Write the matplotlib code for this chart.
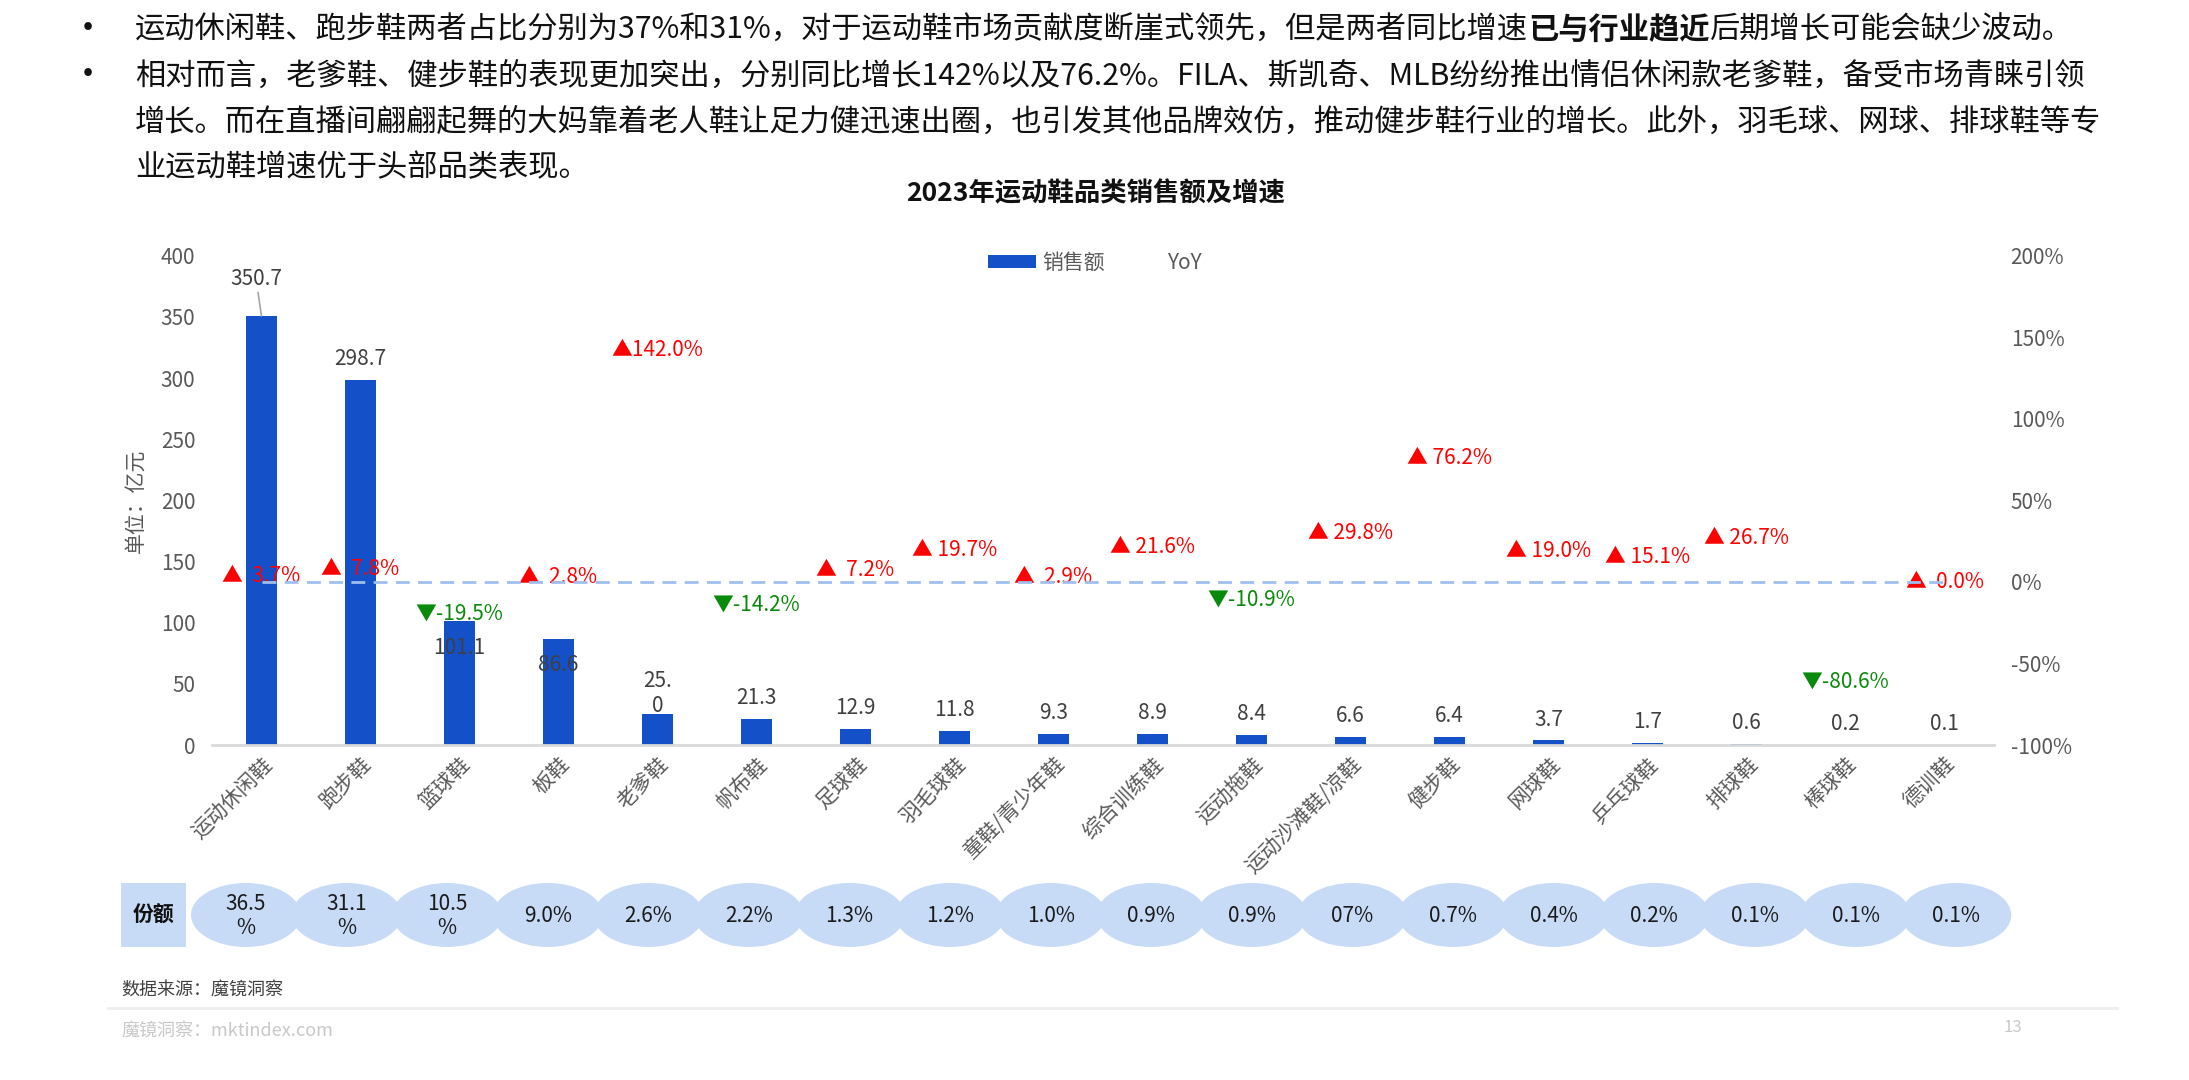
import numpy as np
import matplotlib
matplotlib.use("Agg")
import matplotlib.pyplot as plt
from matplotlib.patches import Patch, Ellipse, Rectangle
from matplotlib.lines import Line2D
from matplotlib.ticker import FuncFormatter, MultipleLocator

plt.rcParams['font.family'] = ['Noto Sans CJK SC', 'DejaVu Sans']

# ---- data ----
categories = ["运动休闲鞋", "跑步鞋", "篮球鞋", "板鞋", "老爹鞋", "帆布鞋", "足球鞋", "羽毛球鞋",
              "童鞋/青少年鞋", "综合训练鞋", "运动拖鞋", "运动沙滩鞋/凉鞋", "健步鞋", "网球鞋",
              "乒乓球鞋", "排球鞋", "棒球鞋", "德训鞋"]
sales = [350.7, 298.7, 101.1, 86.6, 25.0, 21.3, 12.9, 11.8, 9.3, 8.9, 8.4, 6.6, 6.4, 3.7, 1.7, 0.6, 0.2, 0.1]
sales_labels = ["350.7", "298.7", "101.1", "86.6", "25.\n0", "21.3", "12.9", "11.8", "9.3", "8.9",
                "8.4", "6.6", "6.4", "3.7", "1.7", "0.6", "0.2", "0.1"]
yoy = [3.7, 7.8, -19.5, 2.8, 142.0, -14.2, 7.2, 19.7, 2.9, 21.6, -10.9, 29.8, 76.2, 19.0, 15.1, 26.7, -80.6, 0.0]
share_labels = ["36.5\n%", "31.1\n%", "10.5\n%", "9.0%", "2.6%", "2.2%", "1.3%", "1.2%", "1.0%",
                "0.9%", "0.9%", "07%", "0.7%", "0.4%", "0.2%", "0.1%", "0.1%", "0.1%"]

title = "2023年运动鞋品类销售额及增速"
para1 = [("运动休闲鞋、跑步鞋两者占比分别为37%和31%，对于运动鞋市场贡献度断崖式领先，但是两者同比增速", "normal"),
         ("已与行业趋近", "bold"),
         ("后期增长可能会缺少波动。", "normal")]
para2 = ["相对而言，老爹鞋、健步鞋的表现更加突出，分别同比增长142%以及76.2%。FILA、斯凯奇、MLB纷纷推出情侣休闲款老爹鞋，备受市场青睐引领",
         "增长。而在直播间翩翩起舞的大妈靠着老人鞋让足力健迅速出圈，也引发其他品牌效仿，推动健步鞋行业的增长。此外，羽毛球、网球、排球鞋等专",
         "业运动鞋增速优于头部品类表现。"]

W, H = 2189, 1080
BLUE = "#1450c8"
LIGHT = "#c7dbf6"
GRAY = "#595959"

fig = plt.figure(figsize=(W / 100, H / 100), dpi=100)

# page overlay in pixel coordinates
page = fig.add_axes([0, 0, 1, 1])
page.set_xlim(0, W)
page.set_ylim(H, 0)
page.axis("off")

# ---- main chart ----
ax = fig.add_axes([212 / W, (H - 745) / H, 1782 / W, (745 - 255.7) / H])
x = np.arange(len(categories))
ax.bar(x, sales, width=0.31, color=BLUE, zorder=2)
ax.set_xlim(-0.5, len(categories) - 0.5)
ax.set_ylim(0, 400)
ax.yaxis.set_major_locator(MultipleLocator(50))
for s in ["top", "right", "left"]:
    ax.spines[s].set_visible(False)
ax.spines["bottom"].set_color("#d9d9d9")
ax.spines["bottom"].set_linewidth(2)
ax.tick_params(axis="y", length=0, labelsize=15, labelcolor=GRAY, pad=12)
ax.tick_params(axis="x", length=0, pad=6)
ax.set_xticks(x)
ax.set_xticklabels(categories, rotation=45, ha="right", va="top", rotation_mode="anchor",
                   fontsize=15, color=GRAY)
ax.set_ylabel("单位：亿元", fontsize=15, color=GRAY, labelpad=10)
ax.patch.set_alpha(0)

# sales labels
for i, (v, lab) in enumerate(zip(sales, sales_labels)):
    if i == 0:
        ax.annotate(lab, xy=(i, v), xytext=(-4, 19), textcoords="offset points",
                    ha="center", va="bottom", fontsize=15, color="#404040",
                    arrowprops=dict(arrowstyle="-", color="#a6a6a6", lw=1.2, shrinkA=0, shrinkB=0))
    elif i in (2, 3):
        ax.annotate(lab, xy=(i, v), xytext=(0, -19), textcoords="offset points",
                    ha="center", va="center", fontsize=15, color="#404040")
    else:
        ax.annotate(lab, xy=(i, v), xytext=(0, 15), textcoords="offset points",
                    ha="center", va="center", fontsize=15, color="#404040", linespacing=1.2)

# YoY on right axis
ax2 = ax.twinx()
ax2.set_ylim(-100, 200)
ax2.yaxis.set_major_locator(MultipleLocator(50))
ax2.yaxis.set_major_formatter(FuncFormatter(lambda v, p: f"{v:.0f}%"))
for s in ["top", "right", "left", "bottom"]:
    ax2.spines[s].set_visible(False)
ax2.tick_params(axis="y", length=0, labelsize=15, labelcolor=GRAY, pad=12)
ax2.plot(x, np.zeros(len(x)), color="#9fbfef", lw=2, dashes=(5, 3), zorder=3)

for i, v in enumerate(yoy):
    if v >= 0:
        txt, col = f"▲{v:5.1f}%", "#ff0000"
    else:
        txt, col = f"▼-{abs(v):.1f}%", "#0a8a0a"
    dy = 23 if v < -50 else 0
    ax2.annotate(txt, xy=(i, v), xytext=(0, dy), textcoords="offset points",
                 ha="center", va="center", fontsize=15, color=col, zorder=2)

# legend
handles = [Patch(facecolor=BLUE, edgecolor="none"), Line2D([], [], color="none")]
fig.legend(handles, ["销售额", "YoY"], loc="center", bbox_to_anchor=(1095 / W, 1 - 263 / H),
           ncol=2, frameon=False, fontsize=15, labelcolor=GRAY, handlelength=2.3,
           handleheight=0.6, handletextpad=0.3, columnspacing=0.4)

# ---- text on the page ----
page.text(1096, 194, title, fontsize=19, fontweight="bold", ha="center", va="center", color="#111111")

renderer = fig.canvas.get_renderer()
line_y = [30, 76, 122, 168]
for yy in line_y[:2]:
    page.text(88, yy, "•", fontsize=26, ha="center", va="center", color="#111111")
xx = 135
for seg, wt in para1:
    t = page.text(xx, line_y[0], seg, fontsize=21.8, fontweight=wt, ha="left", va="center", color="#111111")
    bb = t.get_window_extent(renderer)
    xx += bb.width
for yy, line in zip(line_y[1:], para2):
    page.text(135, yy, line, fontsize=21.8, ha="left", va="center", color="#111111")

# share row
page.add_patch(Rectangle((121, 883), 65, 64, facecolor=LIGHT, edgecolor="none"))
page.text(153.5, 915, "份额", fontsize=15, fontweight="bold", ha="center", va="center", color="#111111")
for i, lab in enumerate(share_labels):
    cx = 246 + i * 100.6
    page.add_patch(Ellipse((cx, 915), 110, 64, facecolor=LIGHT, edgecolor="none"))
    page.text(cx, 916, lab, fontsize=15, ha="center", va="center", color="#1a1a1a", linespacing=1.1)

# footer
page.text(121, 990, "数据来源：魔镜洞察", fontsize=13, ha="left", va="center", color="#404040")
page.plot([108, 2117], [1008, 1008], color="#eeeeee", lw=2)
page.text(121, 1031, "魔镜洞察：mktindex.com", fontsize=13, ha="left", va="center", color="#c8c8c8")
page.text(2013, 1027, "13", fontsize=12, ha="center", va="center", color="#c8c8c8")

fig.savefig("out.png", dpi=100)
